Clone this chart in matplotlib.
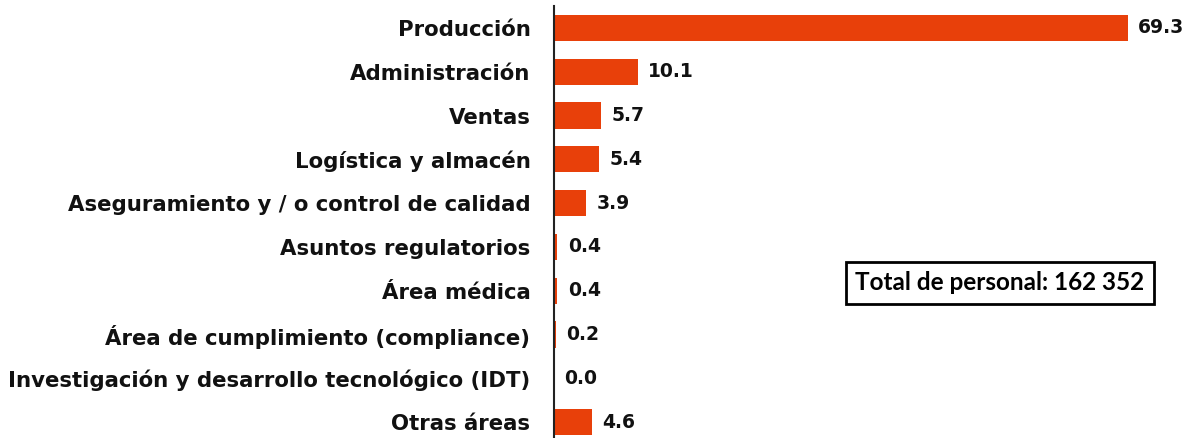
import matplotlib
matplotlib.use("Agg")
import matplotlib.pyplot as plt

# Distribución del personal por área (%)
areas = [
    "Producción",
    "Administración",
    "Ventas",
    "Logística y almacén",
    "Aseguramiento y / o control de calidad",
    "Asuntos regulatorios",
    "Área médica",
    "Área de cumplimiento (compliance)",
    "Investigación y desarrollo tecnológico (IDT)",
    "Otras áreas",
]
valores = [69.3, 10.1, 5.7, 5.4, 3.9, 0.4, 0.4, 0.2, 0.0, 4.6]
total_txt = "Total de personal: 162 352"

color_barra = "#E8400A"

fig = plt.figure(figsize=(11.88, 4.38), dpi=100)
ax = fig.add_axes([554 / 1188, 0, 1 - 554 / 1188, 1 - 6 / 438])

pos = list(range(len(areas)))
ax.barh(pos, valores, height=0.6, color=color_barra)

ax.set_ylim(9.363, -0.5)
ax.set_xlim(0, (1188 - 554) / 8.28)

for y, v in zip(pos, valores):
    ax.annotate("%.1f" % v, xy=(v, y), xytext=(7.5, 0), textcoords="offset points",
                va="center", ha="left", fontsize=13.5, fontweight="bold",
                family="DejaVu Sans", color="#111111")

ax.set_yticks(pos)
ax.set_yticklabels(areas, fontsize=15.3, fontweight="bold", family="DejaVu Sans",
                   color="#111111")
ax.tick_params(axis="y", length=0, pad=17)
ax.set_xticks([])

for s in ["top", "right", "bottom"]:
    ax.spines[s].set_visible(False)
ax.spines["left"].set_linewidth(1.5)
ax.spines["left"].set_color("#222222")

fig.text(1000 / 1188, 1 - 283 / 438, total_txt, ha="center", va="center",
         fontsize=17.5, fontweight="bold", family="Lato",
         bbox=dict(boxstyle="square,pad=0.4", facecolor="white",
                   edgecolor="black", linewidth=2))

fig.savefig("out.png", dpi=100)
